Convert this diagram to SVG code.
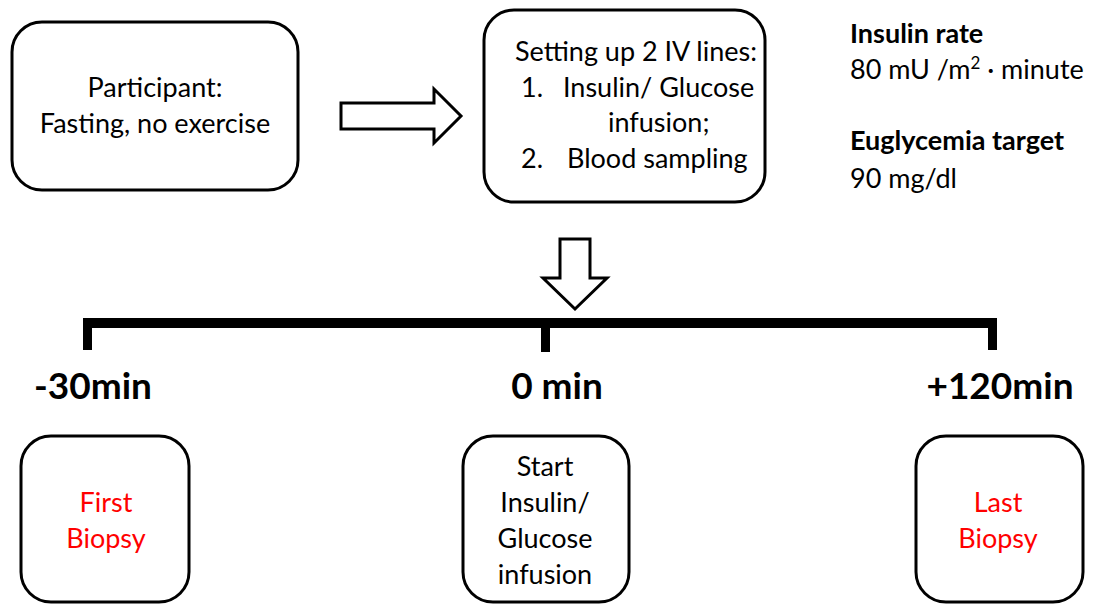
<svg xmlns="http://www.w3.org/2000/svg" width="1094" height="604" viewBox="0 0 1094 604">
<style>
.box{fill:#fff;stroke:#000;stroke-width:3}
.arr{fill:#fff;stroke:#000;stroke-width:3;stroke-linejoin:miter}
.t{font-family:Lato,"Liberation Sans",sans-serif;font-size:27px;fill:#000}
.c{text-anchor:middle}
.b{font-weight:bold}
.red{fill:#ff0000}
.tl{font-family:Lato,"Liberation Sans",sans-serif;font-size:37px;font-weight:bold;fill:#000;text-anchor:middle}
</style>
<rect width="1094" height="604" fill="#fff"/>
<g id="participant">
<rect class="box" x="12" y="22" width="286" height="168" rx="30"/>
<text class="t c" x="155" y="97">Participant:</text>
<text class="t c" x="155" y="133">Fasting, no exercise</text>
</g>
<g id="ivlines">
<rect class="box" x="484" y="10" width="281" height="192" rx="30"/>
<text class="t" x="515" y="61">Setting up 2 IV lines:</text>
<text class="t" x="521" y="97">1.</text>
<text class="t" x="563" y="97">Insulin/ Glucose</text>
<text class="t" x="608" y="132">infusion;</text>
<text class="t" x="521" y="168">2.</text>
<text class="t" x="567" y="168">Blood sampling</text>
</g>
<g id="params">
<text class="t b" x="850" y="43">Insulin rate</text>
<text class="t" x="850" y="79">80 mU /m<tspan dy="-10" font-size="17">2</tspan><tspan dy="10"> · minute</tspan></text>
<text class="t b" x="850" y="150">Euglycemia target</text>
<text class="t" x="850" y="188">90 mg/dl</text>
</g>
<g id="connectors">
<polygon class="arr" points="341,103 434,103 434,89 461,116 434,143 434,129 341,129"/>
<polygon class="arr" points="560,239 590,239 590,278 607,278 575,309 543,278 560,278"/>
</g>
<g id="timeline">
<rect x="84" y="318" width="913" height="10" fill="#000"/>
<rect x="83" y="318" width="9" height="32" fill="#000"/>
<rect x="541" y="318" width="9" height="34" fill="#000"/>
<rect x="988" y="318" width="9" height="32" fill="#000"/>
<text class="tl" x="93" y="399">-30min</text>
<text class="tl" x="557" y="399">0 min</text>
<text class="tl" x="1000" y="399">+120min</text>
</g>
<g id="first-biopsy">
<rect class="box" x="21" y="436" width="168" height="166" rx="30"/>
<text class="t c red" x="106" y="512">First</text>
<text class="t c red" x="106" y="548">Biopsy</text>
</g>
<g id="start-infusion">
<rect class="box" x="463" y="436" width="166" height="166" rx="30"/>
<text class="t c" x="545" y="476">Start</text>
<text class="t c" x="545" y="512">Insulin/</text>
<text class="t c" x="545" y="548">Glucose</text>
<text class="t c" x="545" y="584">infusion</text>
</g>
<g id="last-biopsy">
<rect class="box" x="916" y="436" width="167" height="166" rx="30"/>
<text class="t c red" x="998" y="512">Last</text>
<text class="t c red" x="998" y="548">Biopsy</text>
</g>
</svg>
